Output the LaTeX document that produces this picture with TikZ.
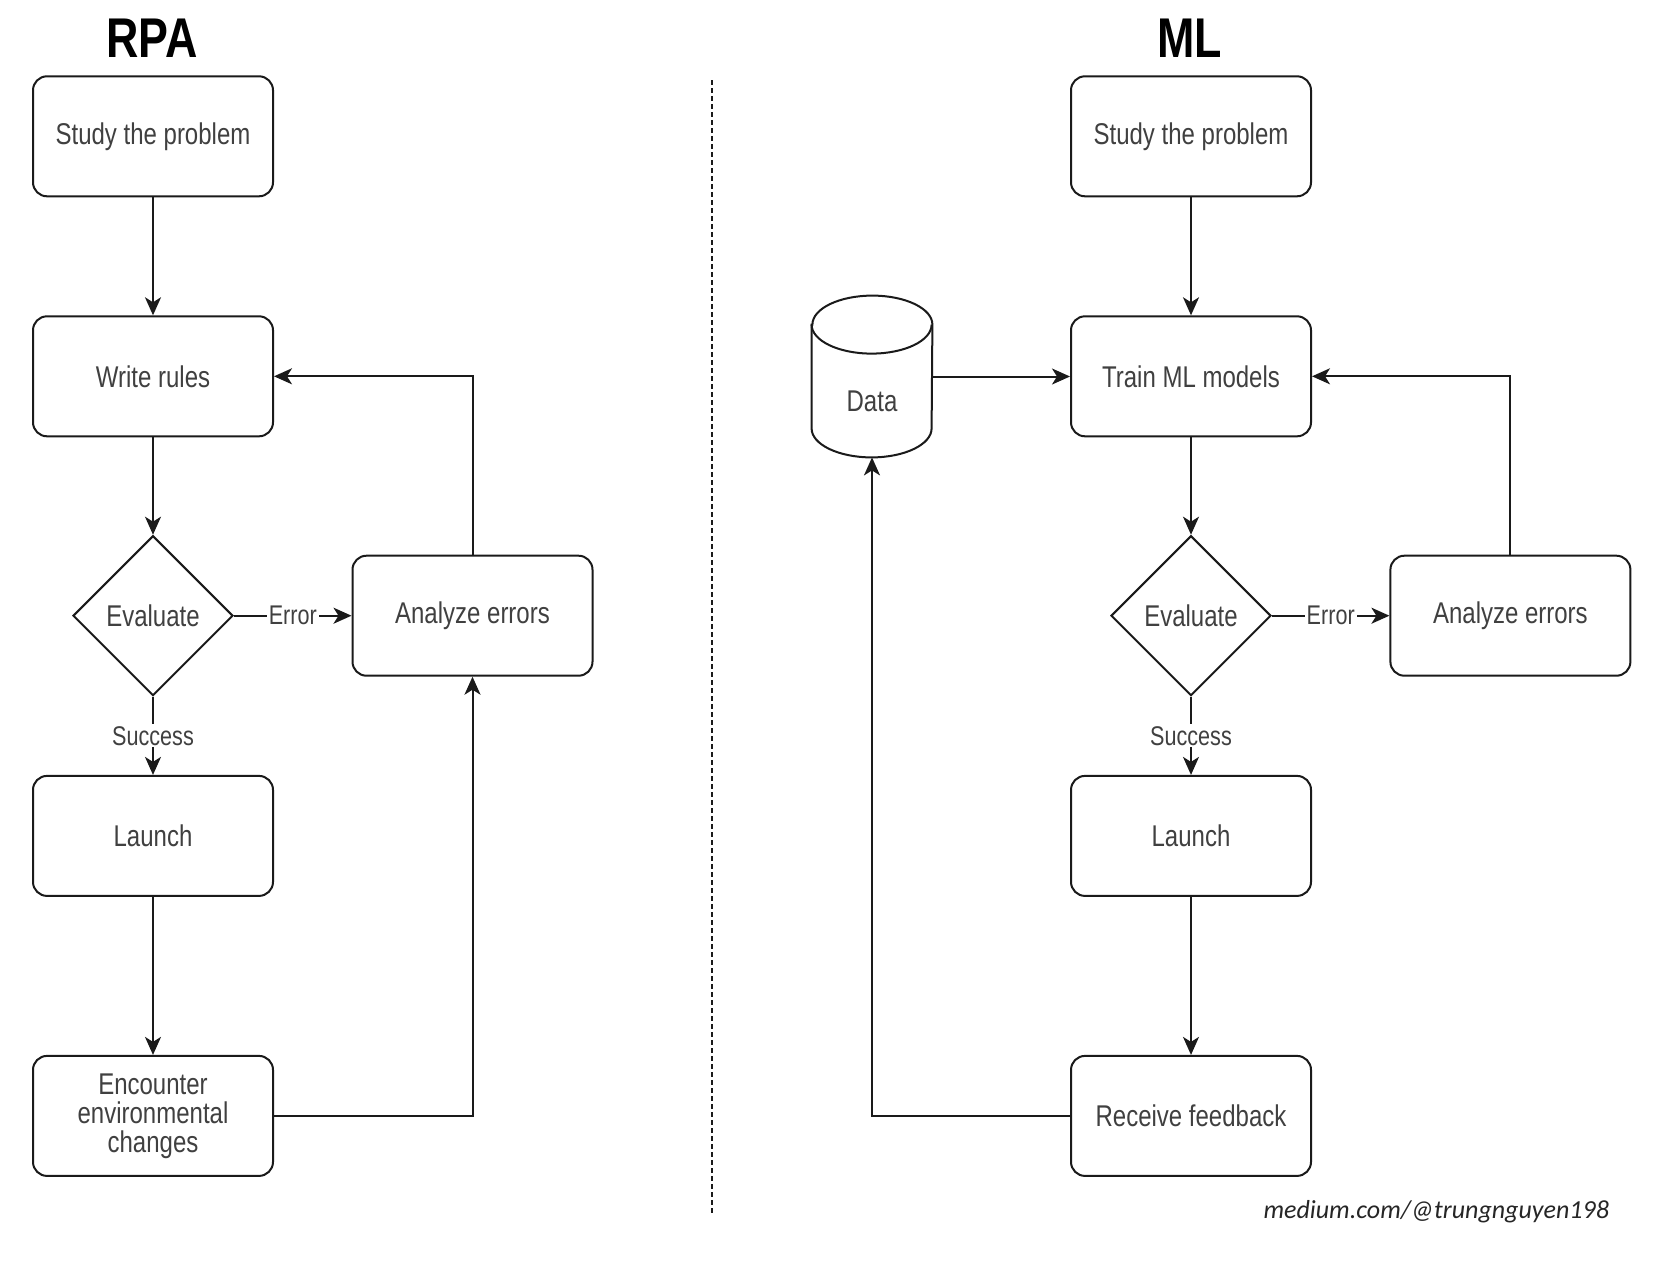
\documentclass[tikz,border=0pt]{standalone}
\usepackage{fontspec}
\setmainfont{Liberation Sans}[FakeStretch=0.8]
\newfontfamily\wmfont{Carlito}
\usetikzlibrary{shapes.geometric,arrows.meta}
\definecolor{txtgray}{HTML}{404040}
\definecolor{linec}{HTML}{1A1A1A}
\begin{document}
\begin{tikzpicture}[x=0.5pt,y=-0.5pt,
  box/.style={draw=linec, line width=1pt, rounded corners=7pt, minimum width=120pt, minimum height=60pt, inner sep=2pt, align=center, text=txtgray, font=\fontsize{15}{14.5}\selectfont},
  dia/.style={draw=linec, line width=1pt, diamond, minimum width=80pt, minimum height=80pt, inner sep=0pt, text=txtgray, font=\fontsize{15}{14.5}\selectfont},
  conn/.style={draw=linec, line width=1pt, -{Stealth[length=9pt,width=8pt,inset=2.5pt]}},
  elabel/.style={fill=white, inner sep=1pt, text=txtgray, font=\fontsize{13.5}{14}\selectfont},
  title/.style={font=\fontsize{28}{30}\selectfont\bfseries, text=black},
  plain/.style={text=txtgray, font=\fontsize{15}{14.5}\selectfont}]
\path[use as bounding box, fill=white] (0,0) rectangle (1676,1274);

% titles
\node[title] (rpaT) at (152,38) {RPA};
\node[title] (mlT) at (1190,38) {ML};

% separator
\coordinate (sepTop) at (712,80);
\coordinate (sepBot) at (712,1215);
\draw[linec, line width=0.8pt, dash pattern=on 2.5pt off 1.5pt] (sepTop) -- (sepBot);

% RPA column
\node[box] (studyL) at (153,136.3) {Study the problem};
\node[box] (writeL) at (153,376.3) {Write rules};
\node[dia] (evalL) at (153,615.7) {Evaluate};
\node[box] (anaL) at (472.5,615.7) {Analyze errors};
\node[box] (launchL) at (153,835.9) {Launch};
\node[box] (encL) at (153,1115.9) {Encounter\\environmental\\changes};

\draw[conn] (studyL) -- (writeL);
\draw[conn] (writeL) -- (evalL);
\draw[conn] (evalL) -- node[elabel]{Error} (anaL);
\draw[conn] (evalL) -- node[elabel]{Success} (launchL);
\draw[conn] (launchL) -- (encL);
\draw[conn] (encL.east) -| (anaL.south);
\draw[conn] (anaL.north) |- (writeL.east);

% ML column
\node[box] (studyR) at (1191,136.3) {Study the problem};
\node[box] (trainR) at (1191,376.3) {Train ML models};
\node[dia] (evalR) at (1191,615.7) {Evaluate};
\node[box] (anaR) at (1510.4,615.7) {Analyze errors};
\node[box] (launchR) at (1191,835.9) {Launch};
\node[box] (recvR) at (1191,1115.9) {Receive feedback};

% data cylinder
\node[minimum width=60pt, minimum height=80.5pt, inner sep=0pt] (data) at (872,376.5) {};
\draw[linec, line width=1pt, fill=white]
  ([yshift=-14.5pt]data.north west) -- ([yshift=14.5pt]data.south west)
  arc[start angle=180, end angle=360, x radius=30pt, y radius=14.5pt]
  -- ([yshift=-14.5pt]data.north east)
  arc[start angle=0, end angle=180, x radius=30pt, y radius=14.5pt] -- cycle;
\draw[linec, line width=1pt] ([yshift=-14.5pt]data.north west)
  arc[start angle=180, end angle=360, x radius=30pt, y radius=14.5pt];
\node[plain] (datatxt) at (872,401) {Data};

\draw[conn] (studyR) -- (trainR);
\draw[conn] (data.east) -- (data.east -| trainR.west);
\draw[conn] (trainR) -- (evalR);
\draw[conn] (evalR) -- node[elabel]{Error} (anaR);
\draw[conn] (evalR) -- node[elabel]{Success} (launchR);
\draw[conn] (launchR) -- (recvR);
\draw[conn] (recvR.west) -| (data.south);
\draw[conn] (anaR.north) |- (trainR.east);

% watermark
\node[anchor=east, font=\wmfont\itshape\fontsize{13}{14}\selectfont, text=black!85] (wm) at (1616,1212) {medium.com/@trungnguyen198};
\end{tikzpicture}
\end{document}
